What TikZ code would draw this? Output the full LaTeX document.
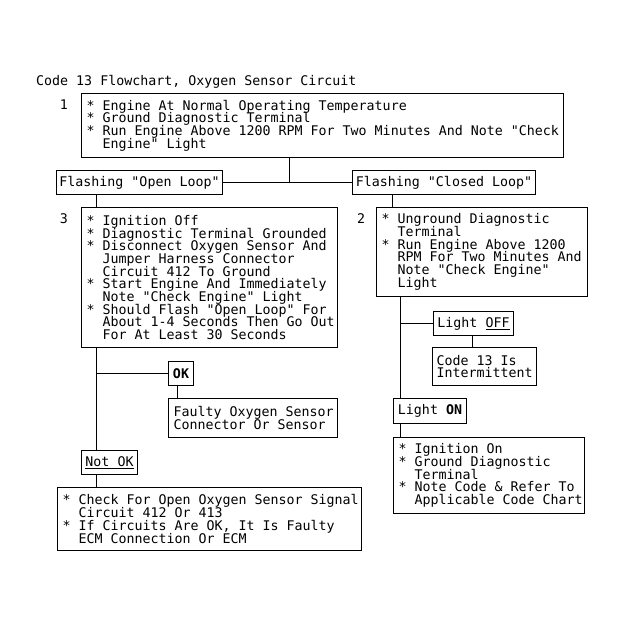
\documentclass[tikz,border=0pt]{standalone}
\usepackage{fontspec}
\newfontfamily\dm[WordSpace={1,0,0}]{DejaVu Sans Mono}
\newcommand\tb[1]{\vbox{\spaceskip=0pt\xspaceskip=0pt\lineskiplimit=-100pt\lineskip=0pt\baselineskip=12.7pt\halign{##\hfil\cr#1\crcr}}}
\newcommand\hg{\hphantom{**}}
\begin{document}
\begin{tikzpicture}[x=1pt,y=-1pt,
  every node/.style={font=\dm\fontsize{13.3}{12.7}\selectfont},
  conn/.style={line width=1pt},
  sbox/.style={draw,line width=1pt,anchor=north west,inner sep=0pt,align=center},
  mbox/.style={draw,line width=1pt,anchor=north west,inner xsep=5pt,inner ysep=0pt,align=left},
  lbl/.style={anchor=base,inner sep=0pt}]
\useasboundingbox (0,0) rectangle (623,626);
\node[anchor=base west,inner sep=0pt] (title) at (36,85) {\tb{Code 13 Flowchart, Oxygen Sensor Circuit}};
\node[lbl] (n1) at (64,109.5) {1};
\node[lbl] (n3) at (64,223.5) {3};
\node[lbl] (n2) at (361,223.5) {2};
% boxes
\node[mbox,text width=472pt,minimum height=64pt] (b1) at (81,93) {\tb{* Engine At Normal Operating Temperature\cr
* Ground Diagnostic Terminal\cr
* Run Engine Above 1200 RPM For Two Minutes And Note "Check\cr
\hg Engine" Light}};
\node[sbox,minimum width=166pt,minimum height=24pt] (open) at (56,170) {\tb{Flashing "Open Loop"}};
\node[sbox,minimum width=183pt,minimum height=24pt] (closed) at (352,170) {\tb{Flashing "Closed Loop"}};
\node[mbox,text width=246pt,minimum height=140pt] (b3) at (81,207) {\tb{* Ignition Off\cr
* Diagnostic Terminal Grounded\cr
* Disconnect Oxygen Sensor And\cr
\hg Jumper Harness Connector\cr
\hg Circuit 412 To Ground\cr
* Start Engine And Immediately\cr
\hg Note "Check Engine" Light\cr
* Should Flash "Open Loop" For\cr
\hg About 1-4 Seconds Then Go Out\cr
\hg For At Least 30 Seconds}};
\node[sbox,minimum width=25pt,minimum height=24pt] (ok) at (168,361) {\textbf{OK}};
\node[mbox,text width=159pt,minimum height=39pt] (faulty) at (168,398) {\tb{Faulty Oxygen Sensor\cr Connector Or Sensor}};
\node[sbox,minimum width=56pt,minimum height=24pt] (notok) at (81,450) {\tb{\underline{Not OK}}};
\node[mbox,text width=294pt,minimum height=63pt] (b4) at (57,487) {\tb{* Check For Open Oxygen Sensor Signal\cr
\hg Circuit 412 Or 413\cr
* If Circuits Are OK, It Is Faulty\cr
\hg ECM Connection Or ECM}};
\node[mbox,text width=201pt,minimum height=89pt] (b2) at (376,207) {\tb{* Unground Diagnostic\cr
\hg Terminal\cr
* Run Engine Above 1200\cr
\hg RPM For Two Minutes And\cr
\hg Note "Check Engine"\cr
\hg Light}};
\node[sbox,minimum width=80pt,minimum height=24pt] (off) at (433,311) {\tb{Light \underline{OFF}}};
\node[mbox,inner xsep=4pt,text width=96pt,minimum height=38pt] (code) at (432,347) {\tb{Code 13 Is\cr Intermittent}};
\node[sbox,minimum width=73pt,minimum height=25pt] (on) at (393,398) {\tb{Light \textbf{ON}}};
\node[mbox,text width=181pt,minimum height=76pt] (b5) at (393,437) {\tb{* Ignition On\cr
* Ground Diagnostic\cr
\hg Terminal\cr
* Note Code \& Refer To\cr
\hg Applicable Code Chart}};
% trunk coordinates
\coordinate (j1) at (289,182);
\coordinate (tL) at (96.5,0);
\coordinate (tOK) at (177,0);
\coordinate (tR1) at (392.5,0);
\coordinate (tR2) at (400.5,0);
\coordinate (tOFF) at (472.7,0);
% connectors
\draw[conn] (b1.south -| j1) -- (j1);
\draw[conn] (open.east) -- (closed.west);
\draw[conn] (open.south -| tL) -- (b3.north -| tL);
\draw[conn] (b3.south -| tL) -- (notok.north -| tL);
\draw[conn] (tL |- ok.west) -- (ok.west);
\draw[conn] (ok.south -| tOK) -- (faulty.north -| tOK);
\draw[conn] (notok.south -| tL) -- (b4.north -| tL);
\draw[conn] (closed.south -| tR1) -- (b2.north -| tR1);
\draw[conn] (b2.south -| tR2) -- (on.north -| tR2);
\draw[conn] (tR2 |- off.west) -- (off.west);
\draw[conn] (off.south -| tOFF) -- (code.north -| tOFF);
\draw[conn] (on.south -| tR2) -- (b5.north -| tR2);
\end{tikzpicture}
\end{document}
